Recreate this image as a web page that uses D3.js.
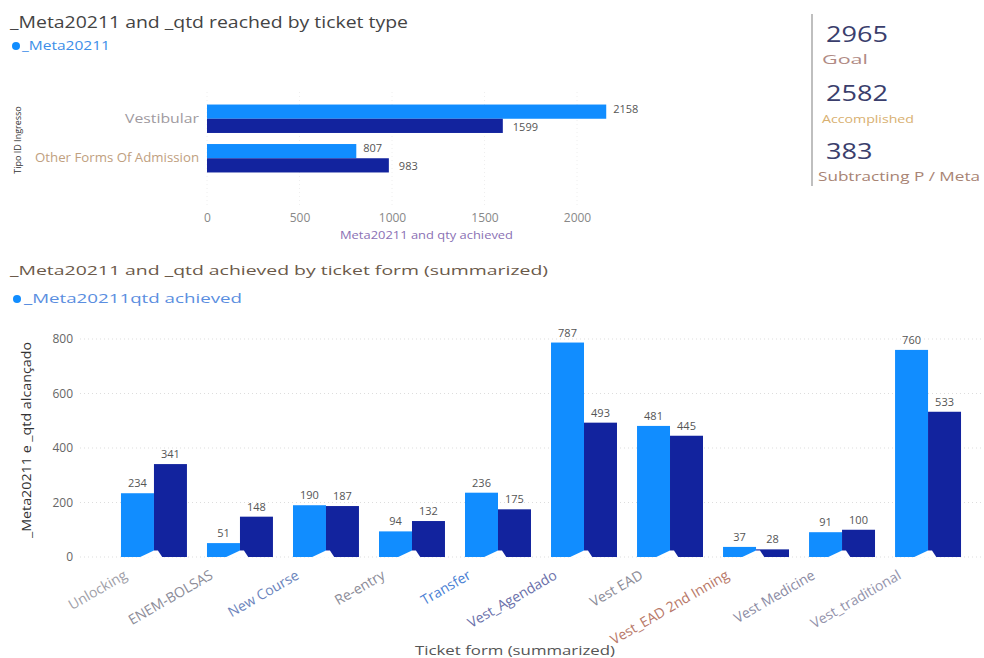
<!DOCTYPE html>
<html>
<head>
<meta charset="utf-8">
<script src="https://cdn.jsdelivr.net/npm/d3@7"></script>
<style>
  body { margin: 0; background: #fff; }
  svg { font-family: "Segoe UI", "Open Sans", Arial, sans-serif; }
</style>
</head>
<body>
<svg id="chart" width="984" height="658"></svg>
<script>
// top chart: by ticket type
var typeNames = ["Vestibular", "Other Forms Of Admission"];
var typeColors = ["#a09aa0", "#c0a080"];
var typeMeta = [2158, 807];
var typeQtd = [1599, 983];
var typeTicks = [0, 500, 1000, 1500, 2000];

// kpi cards
var kpiValues = ["2965", "2582", "383"];
var kpiLabels = ["Goal", "Accomplished", "Subtracting P / Meta"];
var kpiColors = ["#b08a84", "#d8b070", "#a88474"];

// bottom chart: by ticket form
var formNames = ["Unlocking", "ENEM-BOLSAS", "New Course", "Re-entry", "Transfer",
    "Vest_Agendado", "Vest EAD", "Vest_EAD 2nd Inning", "Vest Medicine", "Vest_traditional"];
var formColors = ["#a0a0a8", "#8c8c98", "#6b84bc", "#8c8c98", "#4a80d4",
    "#6a70aa", "#8c8c98", "#b87868", "#8c8ca4", "#9494ac"];
var formMeta = [234, 51, 190, 94, 236, 787, 481, 37, 91, 760];
var formQtd = [341, 148, 187, 132, 175, 493, 445, 28, 100, 533];
var formTicks = [0, 200, 400, 600, 800];

var lightBlue = "#118dff";
var darkBlue = "#12239e";

var svg = d3.select("#chart");

// the screenshot text is stretched wide, so most labels get a fixed length
function label(x, y, size, color, str, len) {
    var t = svg.append("text").attr("x", x).attr("y", y)
        .attr("font-size", size).attr("fill", color).text(str);
    if (len) t.attr("textLength", len).attr("lengthAdjust", "spacingAndGlyphs");
    return t;
}

// ---------- top chart ----------
label(10, 28, 17, "#444", "_Meta20211 and _qtd reached by ticket type", 398);
svg.append("circle").attr("cx", 16).attr("cy", 46).attr("r", 4).attr("fill", lightBlue);
label(22, 50, 12, "#3c8ee8", "_Meta20211", 88);

var xTop = d3.scaleLinear().domain([0, 2200]).range([207, 614]);
var yTop = d3.scaleBand().domain(typeNames).range([99, 178]).paddingInner(0.28).paddingOuter(0.14);

var gTop = svg.append("g");
gTop.selectAll(".vgrid").data(typeTicks).enter().append("line")
    .attr("x1", function (d) { return xTop(d); })
    .attr("x2", function (d) { return xTop(d); })
    .attr("y1", 92).attr("y2", 205)
    .attr("stroke", "#eee").attr("stroke-dasharray", "1,3");

var xAxisTop = d3.axisBottom(xTop).tickValues(typeTicks).tickFormat(d3.format("d"))
    .tickSize(0).tickPadding(0);
gTop.append("g").attr("transform", "translate(0,213)").call(xAxisTop)
    .call(function (g) { g.select(".domain").remove(); })
    .selectAll("text").attr("font-size", 12).attr("fill", "#888")
    .attr("font-family", "\"Open Sans\", Arial, sans-serif");

label(340, 239, 10.5, "#8a70b4", "Meta20211 and qty achieved", 173);

gTop.append("text").attr("transform", "translate(21,140) rotate(-90)")
    .attr("text-anchor", "middle").attr("font-size", 9).attr("fill", "#333")
    .text("Tipo ID Ingresso");

var hb = yTop.bandwidth() / 2;
typeNames.forEach(function (name, i) {
    var y0 = yTop(name);
    gTop.append("rect").attr("x", xTop(0)).attr("y", y0)
        .attr("width", xTop(typeMeta[i]) - xTop(0)).attr("height", hb).attr("fill", lightBlue);
    gTop.append("rect").attr("x", xTop(0)).attr("y", y0 + hb)
        .attr("width", xTop(typeQtd[i]) - xTop(0)).attr("height", hb).attr("fill", darkBlue);
    gTop.append("text").attr("x", xTop(typeMeta[i]) + 7).attr("y", y0 + hb / 2 + 1)
        .attr("font-size", 11).attr("fill", "#555").text(typeMeta[i]);
    gTop.append("text").attr("x", xTop(typeQtd[i]) + 10).attr("y", y0 + hb + hb / 2 + 5)
        .attr("font-size", 11).attr("fill", "#555").text(typeQtd[i]);
    var len = name.length > 12 ? 164 : 74;
    label(199 - len, y0 + hb + 4, 12, typeColors[i], name, len);
});

// ---------- kpi cards ----------
svg.append("line").attr("x1", 812).attr("x2", 812).attr("y1", 14).attr("y2", 186)
    .attr("stroke", "#aaa").attr("stroke-width", 1.5);
var kpiLens = [46, 92, 162];
kpiValues.forEach(function (v, i) {
    var base = 42 + i * 58.5;
    label(826, base, 22, "#3a3e6c", v, v.length * 15.5);
    label(i === 2 ? 818 : 822, base + 22, i === 1 ? 11 : 13, kpiColors[i], kpiLabels[i], kpiLens[i]);
});

// ---------- bottom chart ----------
label(10, 275, 13, "#6b5a4a", "_Meta20211 and _qtd achieved by ticket form (summarized)", 538);
svg.append("circle").attr("cx", 17).attr("cy", 299).attr("r", 4).attr("fill", lightBlue);
label(24, 303, 13, "#5a8ee0", "_Meta20211qtd achieved", 218);

var x0 = d3.scaleBand().domain(formNames).range([111, 971]).paddingInner(0.233).paddingOuter(0.116);
var x1 = d3.scaleBand().domain(["meta", "qtd"]).range([0, x0.bandwidth()]);
var y = d3.scaleLinear().domain([0, 800]).range([557, 339]);

var gBot = svg.append("g");
gBot.selectAll(".hgrid").data(formTicks).enter().append("line")
    .attr("x1", 80).attr("x2", 984)
    .attr("y1", function (d) { return y(d); })
    .attr("y2", function (d) { return y(d); })
    .attr("stroke", "#ddd").attr("stroke-dasharray", "1,3");

var yAxis = d3.axisLeft(y).tickValues(formTicks).tickSize(0).tickPadding(0);
gBot.append("g").attr("transform", "translate(73,0)").call(yAxis)
    .call(function (g) { g.select(".domain").remove(); })
    .selectAll("text").attr("font-size", 12).attr("fill", "#666")
    .attr("font-family", "\"Open Sans\", Arial, sans-serif");

gBot.append("text").attr("transform", "translate(31,440) rotate(-90)")
    .attr("text-anchor", "middle").attr("font-size", 13).attr("fill", "#333")
    .attr("textLength", 196).attr("lengthAdjust", "spacingAndGlyphs")
    .text("_Meta20211 e _qtd alcançado");

var groups = gBot.selectAll(".grp").data(formNames).enter().append("g")
    .attr("transform", function (d) { return "translate(" + x0(d) + ",0)"; });

groups.append("rect").attr("x", x1("meta")).attr("width", x1.bandwidth())
    .attr("y", function (d, i) { return y(formMeta[i]); })
    .attr("height", function (d, i) { return y(0) - y(formMeta[i]); })
    .attr("fill", lightBlue);
groups.append("rect").attr("x", x1("qtd")).attr("width", x1.bandwidth())
    .attr("y", function (d, i) { return y(formQtd[i]); })
    .attr("height", function (d, i) { return y(0) - y(formQtd[i]); })
    .attr("fill", darkBlue);

// little white notch at the foot of each pair, as in the picture
var w = x1.bandwidth();
groups.append("polygon").attr("fill", "#fff")
    .attr("points", function (d, i) {
        var b = x1("qtd"), y0 = y(0) + 0.5;
        var h = Math.min(7, y(0) - y(formMeta[i]), y(0) - y(formQtd[i]));
        return [[w * 0.55, y0], [b, y0 - h], [b + w * 0.12, y0 - h], [b + w * 0.26, y0]].join(" ");
    });

groups.append("text").attr("x", x1("meta") + w / 2).attr("text-anchor", "middle")
    .attr("y", function (d, i) { return y(formMeta[i]) - 6; })
    .attr("font-size", 11).attr("fill", "#555")
    .text(function (d, i) { return formMeta[i]; });
groups.append("text").attr("x", x1("qtd") + w / 2).attr("text-anchor", "middle")
    .attr("y", function (d, i) { return y(formQtd[i]) - 6; })
    .attr("font-size", 11).attr("fill", "#555")
    .text(function (d, i) { return formQtd[i]; });

groups.append("text")
    .attr("transform", "translate(" + (x0.bandwidth() / 2 - 26) + ",578) rotate(-30)")
    .attr("text-anchor", "end").attr("font-size", 14)
    .attr("fill", function (d, i) { return formColors[i]; })
    .text(function (d) { return d; });

gBot.append("text").attr("x", 515).attr("y", 655).attr("text-anchor", "middle")
    .attr("font-size", 13).attr("fill", "#555")
    .attr("textLength", 200).attr("lengthAdjust", "spacingAndGlyphs")
    .text("Ticket form (summarized)");
</script>
</body>
</html>
